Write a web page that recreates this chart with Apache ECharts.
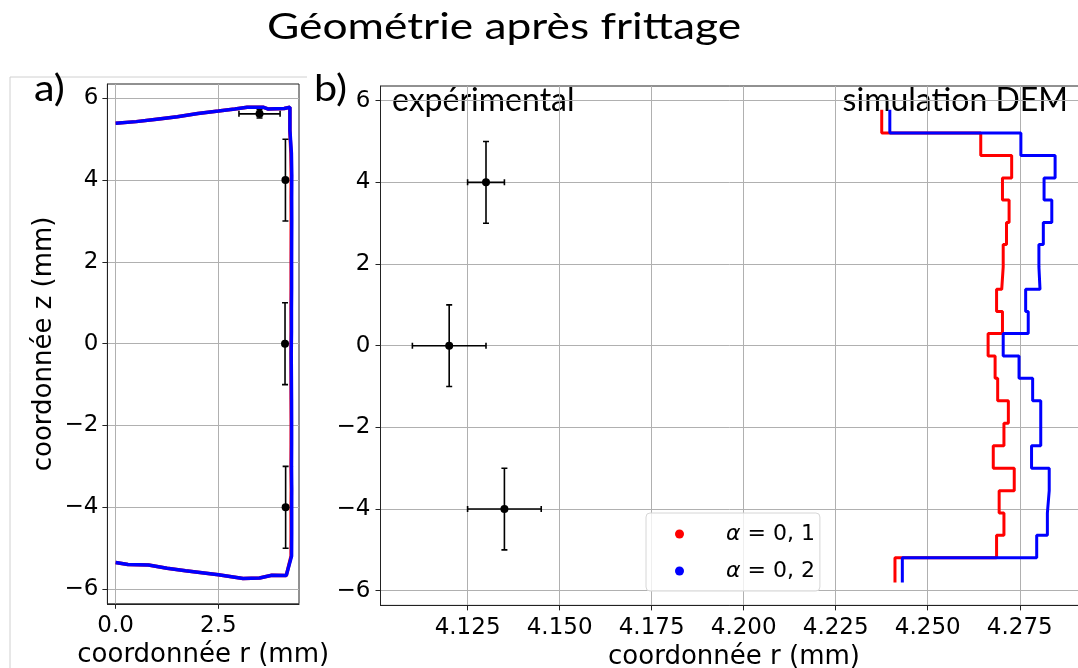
<!DOCTYPE html>
<html>
<head>
<meta charset="utf-8">
<script src="https://cdn.jsdelivr.net/npm/echarts@6/dist/echarts.min.js"></script>
<style>
  html, body { margin: 0; padding: 0; background: #fff; }
  #container { width: 1078px; height: 668px; }
</style>
</head>
<body>
<div id="container"></div>
<script>
// z positions (mm) of the step edges, shared by both DEM runs
const zEdges = [5.78, 5.21, 4.66, 4.11, 3.57, 3.02, 2.48, 1.93, 1.38, 0.84, 0.30,
  -0.25, -0.80, -1.35, -1.90, -2.45, -3.00, -3.55, -4.10, -4.64, -5.19, -5.80];
// outer radius (mm) for each z band
const rAlpha01 = [4.2375, 4.2644, 4.2728, 4.2703, 4.2721, 4.2714, 4.2705, 4.2701, 4.2687, 4.2703,
  4.2664, 4.2683, 4.2690, 4.2719, 4.2707, 4.2678, 4.2735, 4.2694, 4.2707, 4.2687, 4.2411];
const rAlpha02 = [4.2397, 4.2753, 4.2846, 4.2816, 4.2837, 4.2814, 4.2802, 4.2805, 4.2766, 4.2773,
  4.2705, 4.2748, 4.2785, 4.2807, 4.2807, 4.2782, 4.2830, 4.2825, 4.2825, 4.2796, 4.2431];

// top and bottom faces of the part (panel a)
const topR = [0, 0.5, 1.0, 1.5, 2.0, 2.5, 2.9, 3.2, 3.6, 3.7, 4.1];
const topZ = [5.39, 5.43, 5.49, 5.55, 5.63, 5.69, 5.74, 5.78, 5.78, 5.74, 5.75];
const botR = [4.15, 3.8, 3.5, 3.1, 2.5, 1.7, 1.25, 0.8, 0.3, 0];
const botZ = [-5.67, -5.66, -5.73, -5.74, -5.65, -5.55, -5.49, -5.41, -5.40, -5.35];

// experimental measurements
const expR = [3.5, 4.13, 4.12, 4.135];
const expZ = [5.62, 4, 0, -4];
const expRErr = [0.5, 0.005, 0.01, 0.01];
const expZErr = [0.1, 1, 1, 1];

const zTicks = [-6, -4, -2, 0, 2, 4, 6];
const rTicksA = [0, 2.5];
const rTicksB = [4.125, 4.15, 4.175, 4.2, 4.225, 4.25, 4.275];

const names = ["α = 0, 1", "α = 0, 2"];
const colors = ["#ff0000", "#0000ff"];

function steps(r) {
  const pts = [];
  r.forEach((v, i) => {
    pts.push([v, zEdges[i]]);
    pts.push([v, zEdges[i + 1]]);
  });
  return pts;
}

// panel a: the side joins the bottom face with a rounded corner
function outline(r) {
  const top = topR.map((v, i) => [v, topZ[i]]);
  const bot = botR.map((v, i) => [v, botZ[i]]);
  return top.concat(steps(r).slice(0, -1), bot);
}

const expData = expR.map((v, i) => [v, expZ[i], expRErr[i], expZErr[i]]);

const minus = (v) => (v < 0 ? "\u2212" : "") + Math.abs(v);
const tickFont = { fontFamily: "DejaVu Sans", fontSize: 23, color: "#000" };
const nameFont = { fontFamily: "DejaVu Sans", fontSize: 26, color: "#000" };

function axis(opt) {
  return Object.assign({
    type: "value",
    axisLine: { show: true, onZero: false, lineStyle: { color: "#222", width: 1 } },
    axisTick: { show: true, length: 5, lineStyle: { color: "#222" } },
    splitLine: { show: true, lineStyle: { color: "#b0b0b0", width: 1 } },
    nameTextStyle: nameFont,
  }, opt);
}

function errBars(params, api) {
  const r = api.value(0), z = api.value(1), dr = api.value(2), dz = api.value(3);
  const c = api.coord([r, z]);
  const l = api.coord([r - dr, z]);
  const rr = api.coord([r + dr, z]);
  const t = api.coord([r, z + dz]);
  const b = api.coord([r, z - dz]);
  const cap = 3;
  const st = { stroke: "#000", lineWidth: 1.6 };
  const cs = params.coordSys;
  return {
    type: "group",
    clipPath: { type: "rect", shape: { x: cs.x, y: cs.y, width: cs.width, height: cs.height } },
    children: [
      { type: "line", shape: { x1: l[0], y1: l[1], x2: rr[0], y2: rr[1] }, style: st },
      { type: "line", shape: { x1: t[0], y1: t[1], x2: b[0], y2: b[1] }, style: st },
      { type: "line", shape: { x1: l[0], y1: l[1] - cap, x2: l[0], y2: l[1] + cap }, style: st },
      { type: "line", shape: { x1: rr[0], y1: rr[1] - cap, x2: rr[0], y2: rr[1] + cap }, style: st },
      { type: "line", shape: { x1: t[0] - cap, y1: t[1], x2: t[0] + cap, y2: t[1] }, style: st },
      { type: "line", shape: { x1: b[0] - cap, y1: b[1], x2: b[0] + cap, y2: b[1] }, style: st },
      { type: "circle", shape: { cx: c[0], cy: c[1], r: 4 }, style: { fill: "#000" } },
    ],
  };
}

const chart = echarts.init(document.getElementById("container"), null, { renderer: "canvas" });

chart.setOption({
  animation: false,
  grid: [
    { left: 107.4, top: 84, width: 191.6, height: 519.8, show: true, borderColor: "#222", borderWidth: 1, outerBoundsMode: "none" },
    { left: 380.5, top: 86, width: 707, height: 519.4, show: true, borderColor: "#222", borderWidth: 1, outerBoundsMode: "none" },
  ],
  xAxis: [
    axis({
      gridIndex: 0, min: -0.2, max: 4.46,
      axisTick: { show: true, length: 5, lineStyle: { color: "#222" }, customValues: rTicksA },
      axisLabel: Object.assign({ margin: 11, customValues: rTicksA, formatter: (v) => v.toFixed(1) }, tickFont),
      name: "coordonnée r (mm)", nameLocation: "middle", nameGap: 38,
    }),
    axis({
      gridIndex: 1, min: 4.10134, max: 4.2934,
      axisTick: { show: true, length: 5, lineStyle: { color: "#222" }, customValues: rTicksB },
      axisLabel: Object.assign({ margin: 11, customValues: rTicksB, formatter: (v) => v.toFixed(3) }, tickFont),
      name: "coordonnée r (mm)", nameLocation: "middle", nameGap: 38,
    }),
  ],
  yAxis: [
    axis({
      gridIndex: 0, min: -6.36, max: 6.35,
      axisTick: { show: true, length: 5, lineStyle: { color: "#222" }, customValues: zTicks },
      axisLabel: Object.assign({ margin: 9, customValues: zTicks, formatter: minus }, tickFont),
      name: "coordonnée z (mm)", nameLocation: "middle", nameGap: 50,
    }),
    axis({
      gridIndex: 1, min: -6.36, max: 6.36,
      axisTick: { show: true, length: 5, lineStyle: { color: "#222" }, customValues: zTicks },
      axisLabel: Object.assign({ margin: 10, customValues: zTicks, formatter: minus }, tickFont),
    }),
  ],
  legend: {
    data: names.map((n) => ({ name: n, icon: "circle" })),
    orient: "vertical",
    left: 646,
    top: 513,
    itemWidth: 9,
    itemHeight: 9,
    itemGap: 11,
    padding: [8, 5, 7, 29],
    backgroundColor: "rgba(255,255,255,0.8)",
    borderColor: "#d6d6d6",
    borderWidth: 1,
    borderRadius: 4,
    formatter: (n) => "{s|}{g|α}" + n.slice(1),
    textStyle: {
      fontFamily: "DejaVu Sans", fontSize: 22, color: "#000", lineHeight: 26,
      rich: { s: { width: 37 }, g: { fontStyle: "italic", fontFamily: "DejaVu Sans", fontSize: 22 } },
    },
  },
  graphic: [
    { type: "polyline", shape: { points: [[10, 668], [10, 77], [307, 77]] }, style: { stroke: "#d0d0d0", lineWidth: 1, fill: null } },
    { type: "text", x: 267, y: 9, scaleX: 1.23, style: { text: "Géométrie après frittage", font: "36px Lato", fill: "#000" } },
    { type: "text", x: 34, y: 71, scaleX: 1.15, style: { text: "a)", font: "36px Lato", fill: "#000" } },
    { type: "text", x: 314, y: 71, scaleX: 1.15, style: { text: "b)", font: "36px Lato", fill: "#000" } },
    { type: "text", x: 392, y: 85, style: { text: "expérimental", font: "32px Lato", fill: "#000" } },
    { type: "text", x: 1068, y: 85, style: { text: "simulation DEM", font: "32px Lato", fill: "#000", align: "right" } },
  ],
  series: [
    { name: names[0], type: "line", xAxisIndex: 0, yAxisIndex: 0, data: outline(rAlpha01), showSymbol: false, symbol: "none", color: colors[0], lineStyle: { width: 3.5 }, z: 3 },
    { name: names[1], type: "line", xAxisIndex: 0, yAxisIndex: 0, data: outline(rAlpha02), showSymbol: false, symbol: "none", color: colors[1], lineStyle: { width: 3.5 }, z: 4 },
    { type: "custom", xAxisIndex: 0, yAxisIndex: 0, data: expData, renderItem: errBars, z: 5 },
    { name: names[0], type: "line", xAxisIndex: 1, yAxisIndex: 1, data: steps(rAlpha01), showSymbol: false, symbol: "none", color: colors[0], lineStyle: { width: 3 }, z: 3 },
    { name: names[1], type: "line", xAxisIndex: 1, yAxisIndex: 1, data: steps(rAlpha02), showSymbol: false, symbol: "none", color: colors[1], lineStyle: { width: 3 }, z: 4 },
    { type: "custom", xAxisIndex: 1, yAxisIndex: 1, data: expData, renderItem: errBars, z: 5 },
  ],
});

window.addEventListener("resize", chart.resize);
</script>
</body>
</html>
